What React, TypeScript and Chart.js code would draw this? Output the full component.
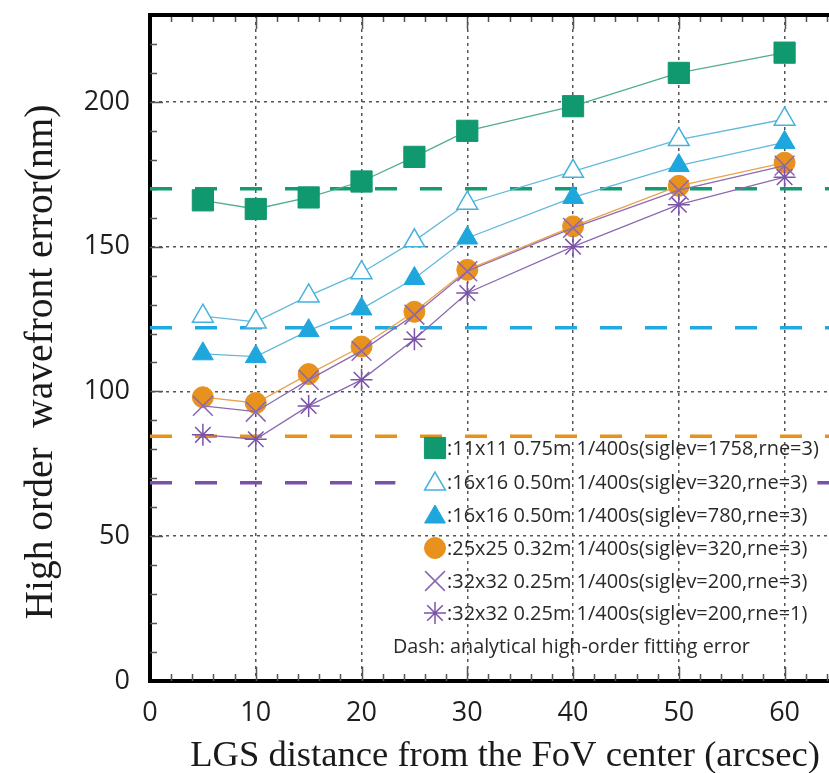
import React, { useEffect, useRef } from 'react';
import { Chart, registerables } from 'chart.js';
import { drawPoint } from 'chart.js/helpers';

Chart.register(...registerables);

// ---------- data ----------
const distances = [5, 10, 15, 20, 25, 30, 40, 50, 60];
const sq11x11 = [166, 163, 167, 172.5, 181, 190, 198.5, 210, 217];
const triOpen16 = [126, 124, 133, 141, 152, 165, 176, 187, 194];
const triFill16 = [113, 112, 121, 128.5, 139, 153, 167, 178, 186];
const circ25 = [98, 96, 106, 115.5, 127.5, 142, 157, 171, 179];
const cross32rne3 = [95, 93, 104, 114, 126.5, 141.5, 156.5, 169.5, 178];
const star32rne1 = [85, 83.5, 95, 104, 118, 134, 150, 164.5, 174];

// analytical fitting errors (dashed)
const fitGreen = 170;
const fitCyan = 122;
const fitOrange = 84.5;
const fitPurple = 68.5;
const purpleSpans = [[0, 23.2], [63.1, 64.2]];

const seriesLabels = [
  ':11x11 0.75m 1/400s(siglev=1758,rne=3)',
  ':16x16 0.50m 1/400s(siglev=320,rne=3)',
  ':16x16 0.50m 1/400s(siglev=780,rne=3)',
  ':25x25 0.32m 1/400s(siglev=320,rne=3)',
  ':32x32 0.25m 1/400s(siglev=200,rne=3)',
  ':32x32 0.25m 1/400s(siglev=200,rne=1)',
];
const dashNote = 'Dash: analytical high-order fitting error';
const xTitle = 'LGS distance from the FoV center (arcsec)';
const yTitle = 'High order  wavefront error(nm)';
const xTickVals = [0, 10, 20, 30, 40, 50, 60];
const yTickVals = [0, 50, 100, 150, 200];
const X_MAX = 64.2;
const Y_MAX = 230;

// ---------- styles ----------
const GREEN = '#10986e';
const GREEN_LINE = '#52ad8d';
const CYAN = '#1ea6dd';
const CYAN_OPEN = '#45b2dc';
const CYAN_LINE = '#62b9dc';
const ORANGE = '#e8911c';
const ORANGE_LINE = '#e9a24e';
const PURPLE = '#8a67b4';
const PURPLE_STAR = '#7b54a9';
const PURPLE_LINE = '#8c6ab2';

const pts = (ys: number[]) => distances.map((x, i) => ({ x, y: ys[i] }));

const markerDefs = [
  { style: 'rect', radius: 15, fill: GREEN, stroke: GREEN, bw: 1 },
  { style: 'triangle', radius: 12, fill: '#ffffff', stroke: CYAN_OPEN, bw: 1.5 },
  { style: 'triangle', radius: 12, fill: CYAN, stroke: CYAN, bw: 1 },
  { style: 'circle', radius: 10.5, fill: ORANGE, stroke: ORANGE, bw: 1 },
  { style: 'crossRot', radius: 14, fill: PURPLE, stroke: PURPLE, bw: 1.5 },
  { style: 'star', radius: 11, fill: PURPLE_STAR, stroke: PURPLE_STAR, bw: 1.5 },
];

const decorPlugin = {
  id: 'decor',
  beforeDatasetsDraw(chart: any) {
    const { ctx, chartArea: ca, scales } = chart;
    const x = scales.x;
    const y = scales.y;
    ctx.save();
    ctx.strokeStyle = '#555';
    ctx.lineWidth = 1.5;
    ctx.beginPath();
    for (let i = 1; i * 10 < Y_MAX; i++) {
      const v = i * 10;
      const py = Math.round(y.getPixelForValue(v)) + 0.5;
      const len = v % 50 === 0 ? 13 : 7;
      ctx.moveTo(ca.left, py);
      ctx.lineTo(ca.left + len, py);
    }
    for (let i = 1; i * 2 < X_MAX; i++) {
      const v = i * 2;
      const px = Math.round(x.getPixelForValue(v)) + 0.5;
      const len = v % 10 === 0 ? 14 : 7;
      ctx.moveTo(px, ca.bottom);
      ctx.lineTo(px, ca.bottom - len);
      ctx.moveTo(px, ca.top);
      ctx.lineTo(px, ca.top + len);
    }
    ctx.stroke();
    ctx.restore();
  },
  afterDatasetsDraw(chart: any) {
    const { ctx } = chart;
    ctx.save();
    // legend
    const mx = 435;
    const tx = 447;
    const rowY = [448, 482, 515, 548, 581, 613];
    ctx.font = '20px "Open Sans"';
    const w0 = ctx.measureText(seriesLabels[0]).width;
    const fs = (20 * 372) / w0;
    ctx.font = `${fs}px "Open Sans"`;
    ctx.textBaseline = 'middle';
    ctx.textAlign = 'left';
    seriesLabels.forEach((lab, i) => {
      const m = markerDefs[i];
      ctx.fillStyle = m.fill;
      ctx.strokeStyle = m.stroke;
      ctx.lineWidth = m.bw;
      const yOff = m.style === 'triangle' ? 2 : 0;
      drawPoint(ctx, { pointStyle: m.style, radius: m.radius, rotation: 0, borderWidth: m.bw }, mx, rowY[i] + yOff);
      ctx.fillStyle = '#2a2a2a';
      ctx.fillText(lab, tx, rowY[i] + 1);
    });
    ctx.font = '17px "Open Sans"';
    const w1 = ctx.measureText(dashNote).width;
    ctx.font = `${(17 * 357) / w1}px "Open Sans"`;
    ctx.fillStyle = '#2a2a2a';
    ctx.fillText(dashNote, 393, 647);
    ctx.restore();
  },
  afterDraw(chart: any) {
    const { ctx, chartArea: ca } = chart;
    ctx.save();
    // top frame
    ctx.strokeStyle = '#000';
    ctx.lineWidth = 4;
    ctx.beginPath();
    ctx.moveTo(ca.left - 2, ca.top);
    ctx.lineTo(ca.right, ca.top);
    ctx.stroke();
    // axis titles
    ctx.fillStyle = '#1a1a1a';
    ctx.textBaseline = 'alphabetic';
    ctx.textAlign = 'center';
    ctx.font = '30px "Liberation Serif"';
    const wx = ctx.measureText(xTitle).width;
    ctx.font = `${(30 * 630) / wx}px "Liberation Serif"`;
    ctx.fillText(xTitle, 505, 766);
    ctx.font = '30px "Liberation Serif"';
    const wy = ctx.measureText(yTitle).width;
    ctx.font = `${(30 * 515) / wy}px "Liberation Serif"`;
    ctx.translate(52, 362);
    ctx.rotate(-Math.PI / 2);
    ctx.fillText(yTitle, 0, 0);
    ctx.restore();
  },
};

const seriesDs = (ys: number[], i: number, line: string, order: number) => {
  const m = markerDefs[i];
  return {
    label: seriesLabels[i],
    data: pts(ys),
    borderColor: line,
    borderWidth: 1.3,
    pointStyle: m.style,
    pointRadius: m.radius,
    pointBackgroundColor: m.fill,
    pointBorderColor: m.stroke,
    pointBorderWidth: m.bw,
    order,
  };
};

const dashDs = (spans: number[][], yv: number, color: string) => {
  const data: any[] = [];
  spans.forEach((s, k) => {
    if (k > 0) data.push({ x: (spans[k - 1][1] + s[0]) / 2, y: null });
    data.push({ x: s[0], y: yv });
    data.push({ x: s[1], y: yv });
  });
  return {
    label: 'fit',
    data,
    borderColor: color,
    borderWidth: 3.5,
    borderDash: [22, 23],
    pointRadius: 0,
    spanGaps: false,
    order: 100,
  };
};

const zeroPad = (s: any) => {
  s.paddingTop = 0;
  s.paddingBottom = 0;
  s.paddingLeft = 0;
  s.paddingRight = 0;
};

export default function App() {
  const ref = useRef<HTMLCanvasElement | null>(null);
  useEffect(() => {
    if (!ref.current) return;
    const chart = new Chart(ref.current, {
      type: 'line',
      data: {
        datasets: [
          dashDs([[0, X_MAX]], fitGreen, '#149b72'),
          dashDs([[0, X_MAX]], fitCyan, '#22a9e0'),
          dashDs([[0, X_MAX]], fitOrange, '#e8921a'),
          dashDs(purpleSpans, fitPurple, '#7c50a9'),
          seriesDs(sq11x11, 0, GREEN_LINE, 1),
          seriesDs(triOpen16, 1, CYAN_LINE, 2),
          seriesDs(triFill16, 2, CYAN_LINE, 3),
          seriesDs(circ25, 3, ORANGE_LINE, 6),
          seriesDs(cross32rne3, 4, PURPLE_LINE, 4),
          seriesDs(star32rne1, 5, PURPLE_LINE, 5),
        ] as any,
      },
      options: {
        responsive: false,
        devicePixelRatio: 1,
        animation: false,
        events: [],
        layout: { autoPadding: false, padding: { top: 15, right: 0, left: 0, bottom: 0 } },
        plugins: { legend: { display: false }, tooltip: { enabled: false }, title: { display: false } },
        scales: {
          x: {
            type: 'linear',
            min: 0,
            max: X_MAX,
            afterBuildTicks: (s: any) => {
              s.ticks = xTickVals.map((v) => ({ value: v }));
            },
            afterFit: (s: any) => {
              s.height = 92;
              zeroPad(s);
            },
            ticks: {
              padding: 16,
              color: '#1e1e1e',
              font: { family: '"Open Sans"', size: 27 },
              maxRotation: 0,
            },
            grid: {
              drawTicks: false,
              color: (c: any) => (c.tick && c.tick.value === 0 ? 'rgba(0,0,0,0)' : '#555'),
              lineWidth: 1.5,
            },
            border: { display: true, color: '#000', width: 4, dash: [3, 4] },
          },
          y: {
            type: 'linear',
            min: 0,
            max: Y_MAX,
            afterBuildTicks: (s: any) => {
              s.ticks = yTickVals.map((v) => ({ value: v }));
            },
            afterFit: (s: any) => {
              s.width = 150;
              zeroPad(s);
            },
            ticks: {
              padding: 20,
              color: '#1e1e1e',
              font: { family: '"Open Sans"', size: 27 },
            },
            grid: {
              drawTicks: false,
              color: (c: any) => (c.tick && c.tick.value === 0 ? 'rgba(0,0,0,0)' : '#555'),
              lineWidth: 1.5,
            },
            border: { display: true, color: '#000', width: 4, dash: [3, 4] },
          },
        },
      },
      plugins: [decorPlugin],
    } as any);
    return () => chart.destroy();
  }, []);
  return (
    <div style={{ position: 'fixed', left: 0, top: 0, width: 829, height: 773, background: '#fff' }}>
      <canvas ref={ref} width={829} height={773} style={{ display: 'block', width: 829, height: 773 }} />
    </div>
  );
}
